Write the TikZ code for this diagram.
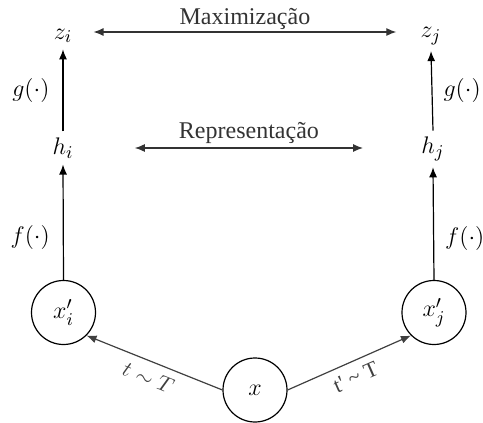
\documentclass[tikz,border=0pt]{standalone}
\usepackage{fontspec}
\setmainfont{Liberation Serif}
\usetikzlibrary{arrows.meta}
\begin{document}
\begin{tikzpicture}[x=0.5pt,y=-0.5pt,
  lbl/.style={font=\fontsize{12.4}{14}\selectfont, inner sep=3pt},
  txt/.style={font=\fontsize{12}{14}\selectfont, inner sep=3pt},
  small/.style={font=\fontsize{11}{13}\selectfont, inner sep=2pt},
  circ/.style={circle,draw,line width=0.6pt,minimum size=32pt,inner sep=0pt,font=\fontsize{12.4}{14}\selectfont},
  arr/.style={line width=0.6pt,-{Latex[length=5pt,width=4pt]}},
  dbl/.style={line width=0.6pt,black!80,{Latex[length=5pt,width=4pt]}-{Latex[length=5pt,width=4pt]}},
  diagl/.style={line width=0.6pt,black!75,{Latex[length=5pt,width=4pt]}-},
  diagr/.style={line width=0.6pt,black!75,-{Latex[length=5pt,width=4pt]}},
]
\useasboundingbox (0,0) rectangle (483,423);
% nodes
\node[lbl] (zi) at (63,36) {$z_i$};
\node[lbl] (zj) at (431,36) {$z_j$};
\node[lbl] (hi) at (63,148) {$h_i$};
\node[lbl] (hj) at (433,149) {$h_j$};
\node[circ] (xi) at (63.5,312.5) {$x'_i$};
\node[circ] (xj) at (434,312.5) {$x'_j$};
\node[circ] (x) at (255,390) {$x$};
% horizontal arrows
\draw[dbl] ([xshift=7.5pt,yshift=2pt]zi.east) -- node[txt,above=-2pt] (max) {Maximização} ([xshift=-9pt,yshift=2pt]zi.east -| zj.west);
\draw[dbl] ([xshift=27.5pt]hi.east) -- node[txt,above=-1pt] (rep) {Representação} ([xshift=-26pt]hi.east -| hj.west);
% vertical arrows
\draw[arr] (hi.north) -- node[lbl,pos=0.5,left=3.5pt] (gi) {$g(\cdot)$} (zi.south);
\draw[arr] (hj.north) -- node[lbl,pos=0.5,right=2.5pt] (gj) {$g(\cdot)$} (zj.south);
\draw[arr] (xi.north) -- node[lbl,pos=0.37,left=3.5pt] (fi) {$f(\cdot)$} (hi.south);
\draw[arr] (xj.north) -- node[lbl,pos=0.37,right=2.5pt] (fj) {$f(\cdot)$} (hj.south);
% diagonal arrows
\draw[diagl] (xi.south east) -- node[small,midway,sloped,below=2pt] (ti) {$t \sim T$} (x.west);
\draw[diagr] (x.east) -- node[small,midway,sloped,below=2pt] (tj) {t\textquotesingle{} \textasciitilde{} T} (xj.south west);
\end{tikzpicture}
\end{document}
